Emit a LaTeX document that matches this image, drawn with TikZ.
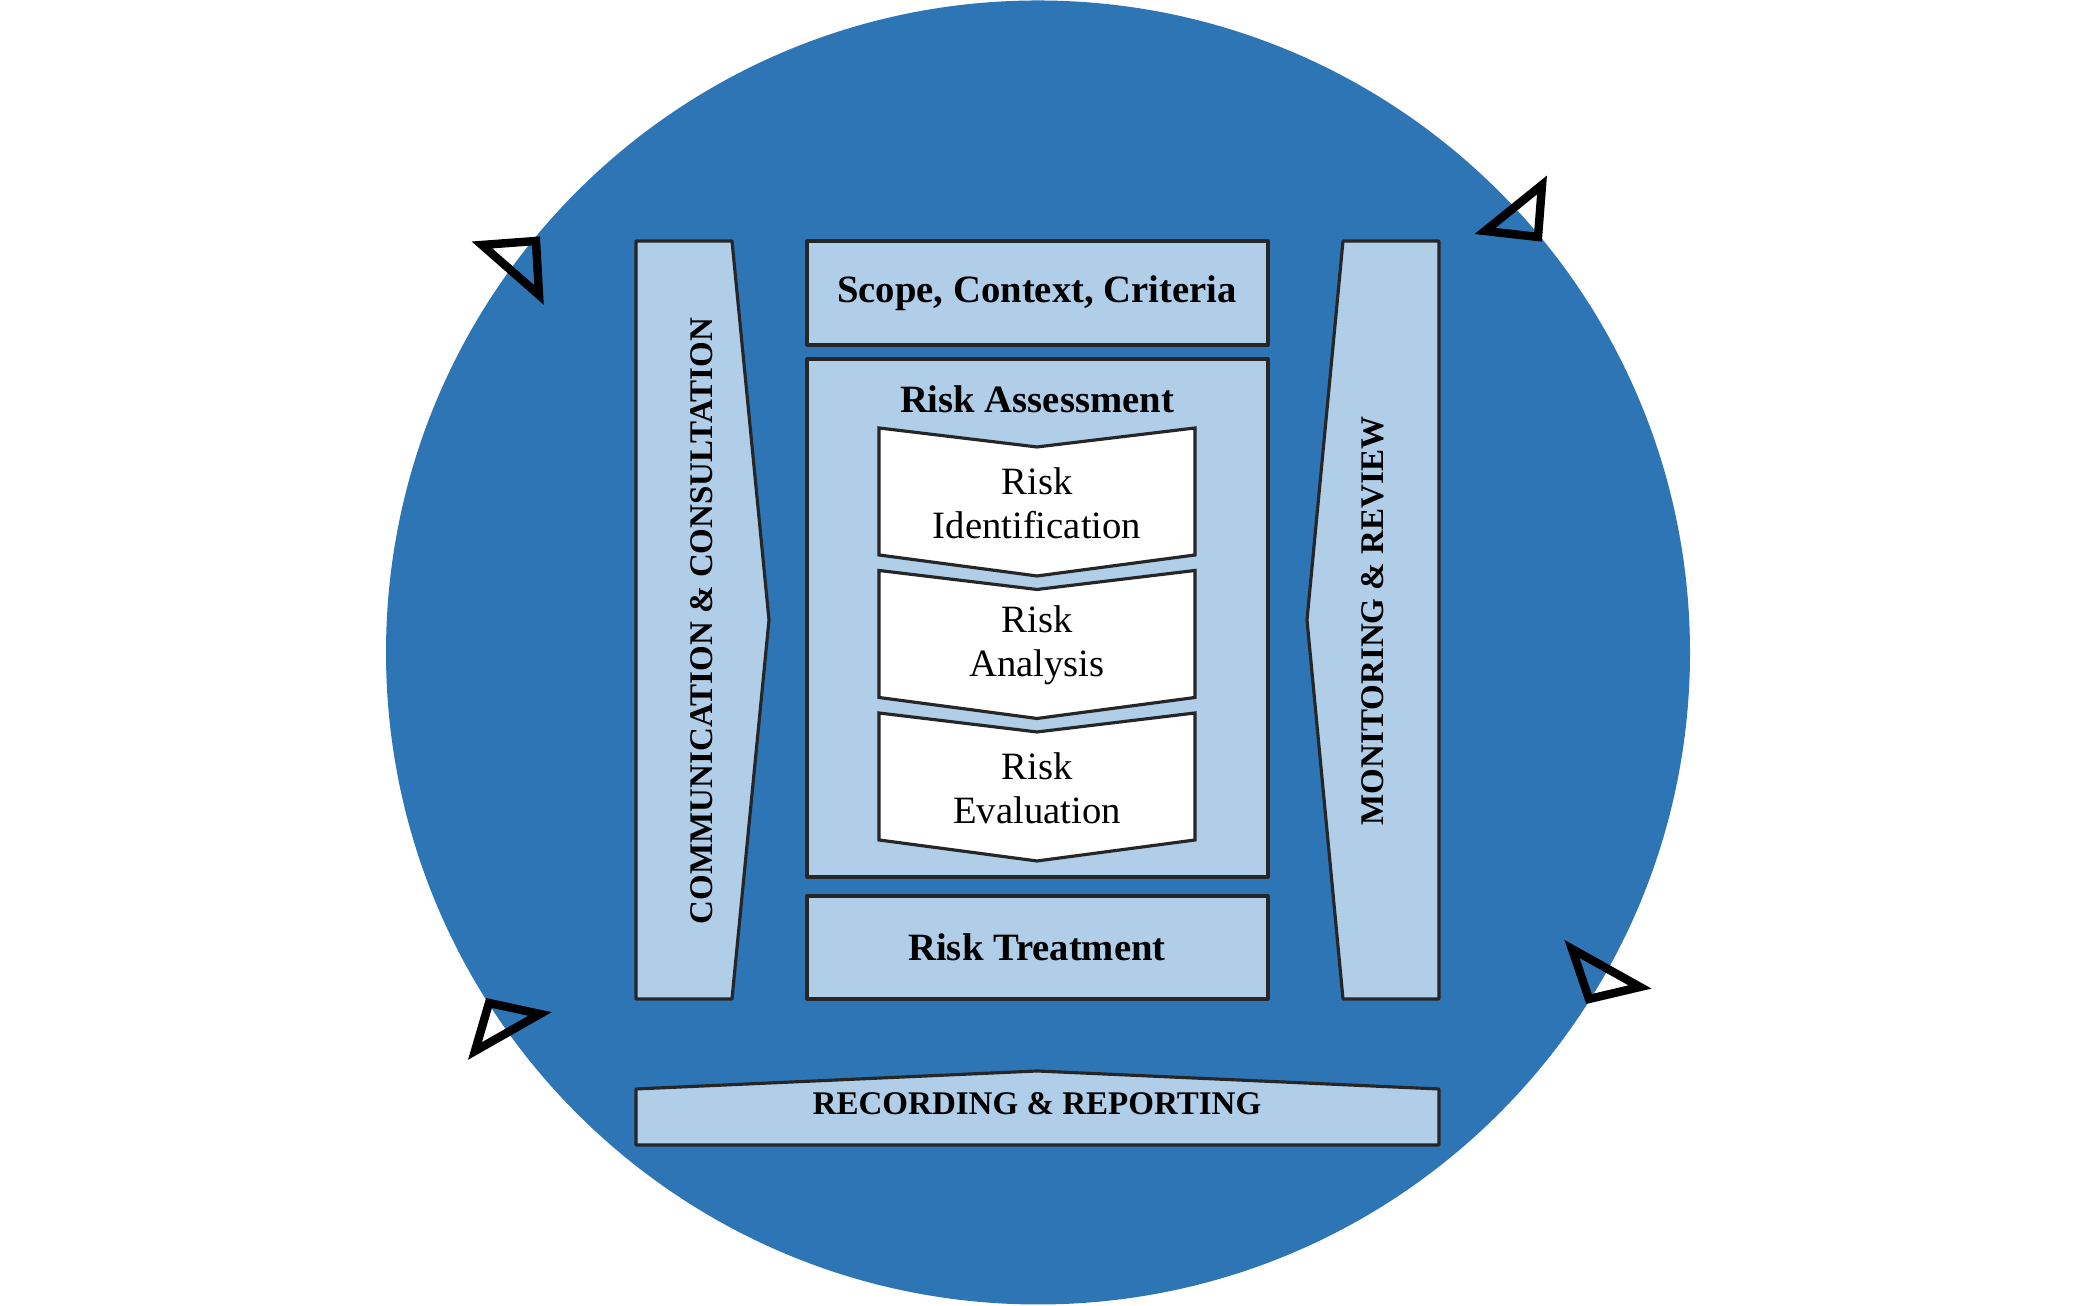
\documentclass[tikz,border=0pt]{standalone}
\usepackage{fontspec}
\setmainfont{Liberation Serif}
\usetikzlibrary{calc}

\definecolor{discblue}{RGB}{46,117,182}
\definecolor{panelblue}{RGB}{176,206,232}

\begin{document}
\begin{tikzpicture}[
	panel/.style={fill=panelblue, draw=black!85, line width=0.9pt, line join=round},
	chev/.style={fill=white, draw=black!85, line width=0.9pt},
	head/.style={draw=black, line width=2.4pt, line join=miter},
	boldtext/.style={font=\fontsize{11}{13}\selectfont\bfseries},
	capstext/.style={font=\fontsize{9.4}{11}\selectfont\bfseries},
	plaintext/.style={font=\fontsize{11}{12.5}\selectfont, align=center}
]
	\useasboundingbox (0,0) rectangle (20.78,13.06);
	\fill[discblue] (10.38,6.535) circle (6.52);
	% side bars
	\draw[panel] (6.36,10.65) -- (7.32,10.65) -- (7.69,6.86) -- (7.32,3.07) -- (6.36,3.07) -- cycle;
	\draw[panel] (14.39,10.65) -- (13.43,10.65) -- (13.07,6.86) -- (13.43,3.07) -- (14.39,3.07) -- cycle;
	\draw (7.02,6.85) node[capstext, rotate=90] (comm) {COMMUNICATION \& CONSULTATION};
	\draw (13.73,6.85) node[capstext, rotate=90] (monitor) {MONITORING \& REVIEW};
	% centre column
	\draw[panel] (8.07,10.65) rectangle (12.68,9.61);
	\draw (10.37,10.13) node[boldtext] (scope) {Scope, Context, Criteria};
	\draw[panel] (8.07,9.47) rectangle (12.68,4.29);
	\draw (10.37,9.07) node[boldtext] (assess) {Risk Assessment};
	\foreach \i/\name in {0/Identification,1/Analysis,2/Evaluation} {
		\draw[chev] (8.79,8.78-1.425*\i) -- ++(1.58,-0.19) -- ++(1.58,0.19) -- ++(0,-1.27) -- ++(-1.58,-0.21) -- ++(-1.58,0.21) -- cycle;
		\draw (10.37,8.03-1.425*\i) node[plaintext] (stage\i) {Risk\\\name};
	};
	\draw[panel] (8.07,4.10) rectangle (12.68,3.07);
	\draw (10.37,3.59) node[boldtext] (treat) {Risk Treatment};
	% bottom bar
	\draw[panel] (6.36,1.61) -- (6.36,2.17) -- (10.37,2.35) -- (14.39,2.17) -- (14.39,1.61) -- cycle;
	\draw (10.37,2.02) node[capstext] (record) {RECORDING \& REPORTING};
	% arrow heads round the rim
	\draw[head] (4.82,10.61) -- (5.36,10.65) -- (5.39,10.11) -- cycle;
	\draw[head] (15.42,11.21) -- (14.85,10.75) -- (15.38,10.69) -- cycle;
	\draw[head] (4.89,3.03) -- (5.40,2.92) -- (4.75,2.55) -- cycle;
	\draw[head] (15.72,3.57) -- (16.40,3.19) -- (15.89,3.07) -- cycle;
\end{tikzpicture}
\end{document}
